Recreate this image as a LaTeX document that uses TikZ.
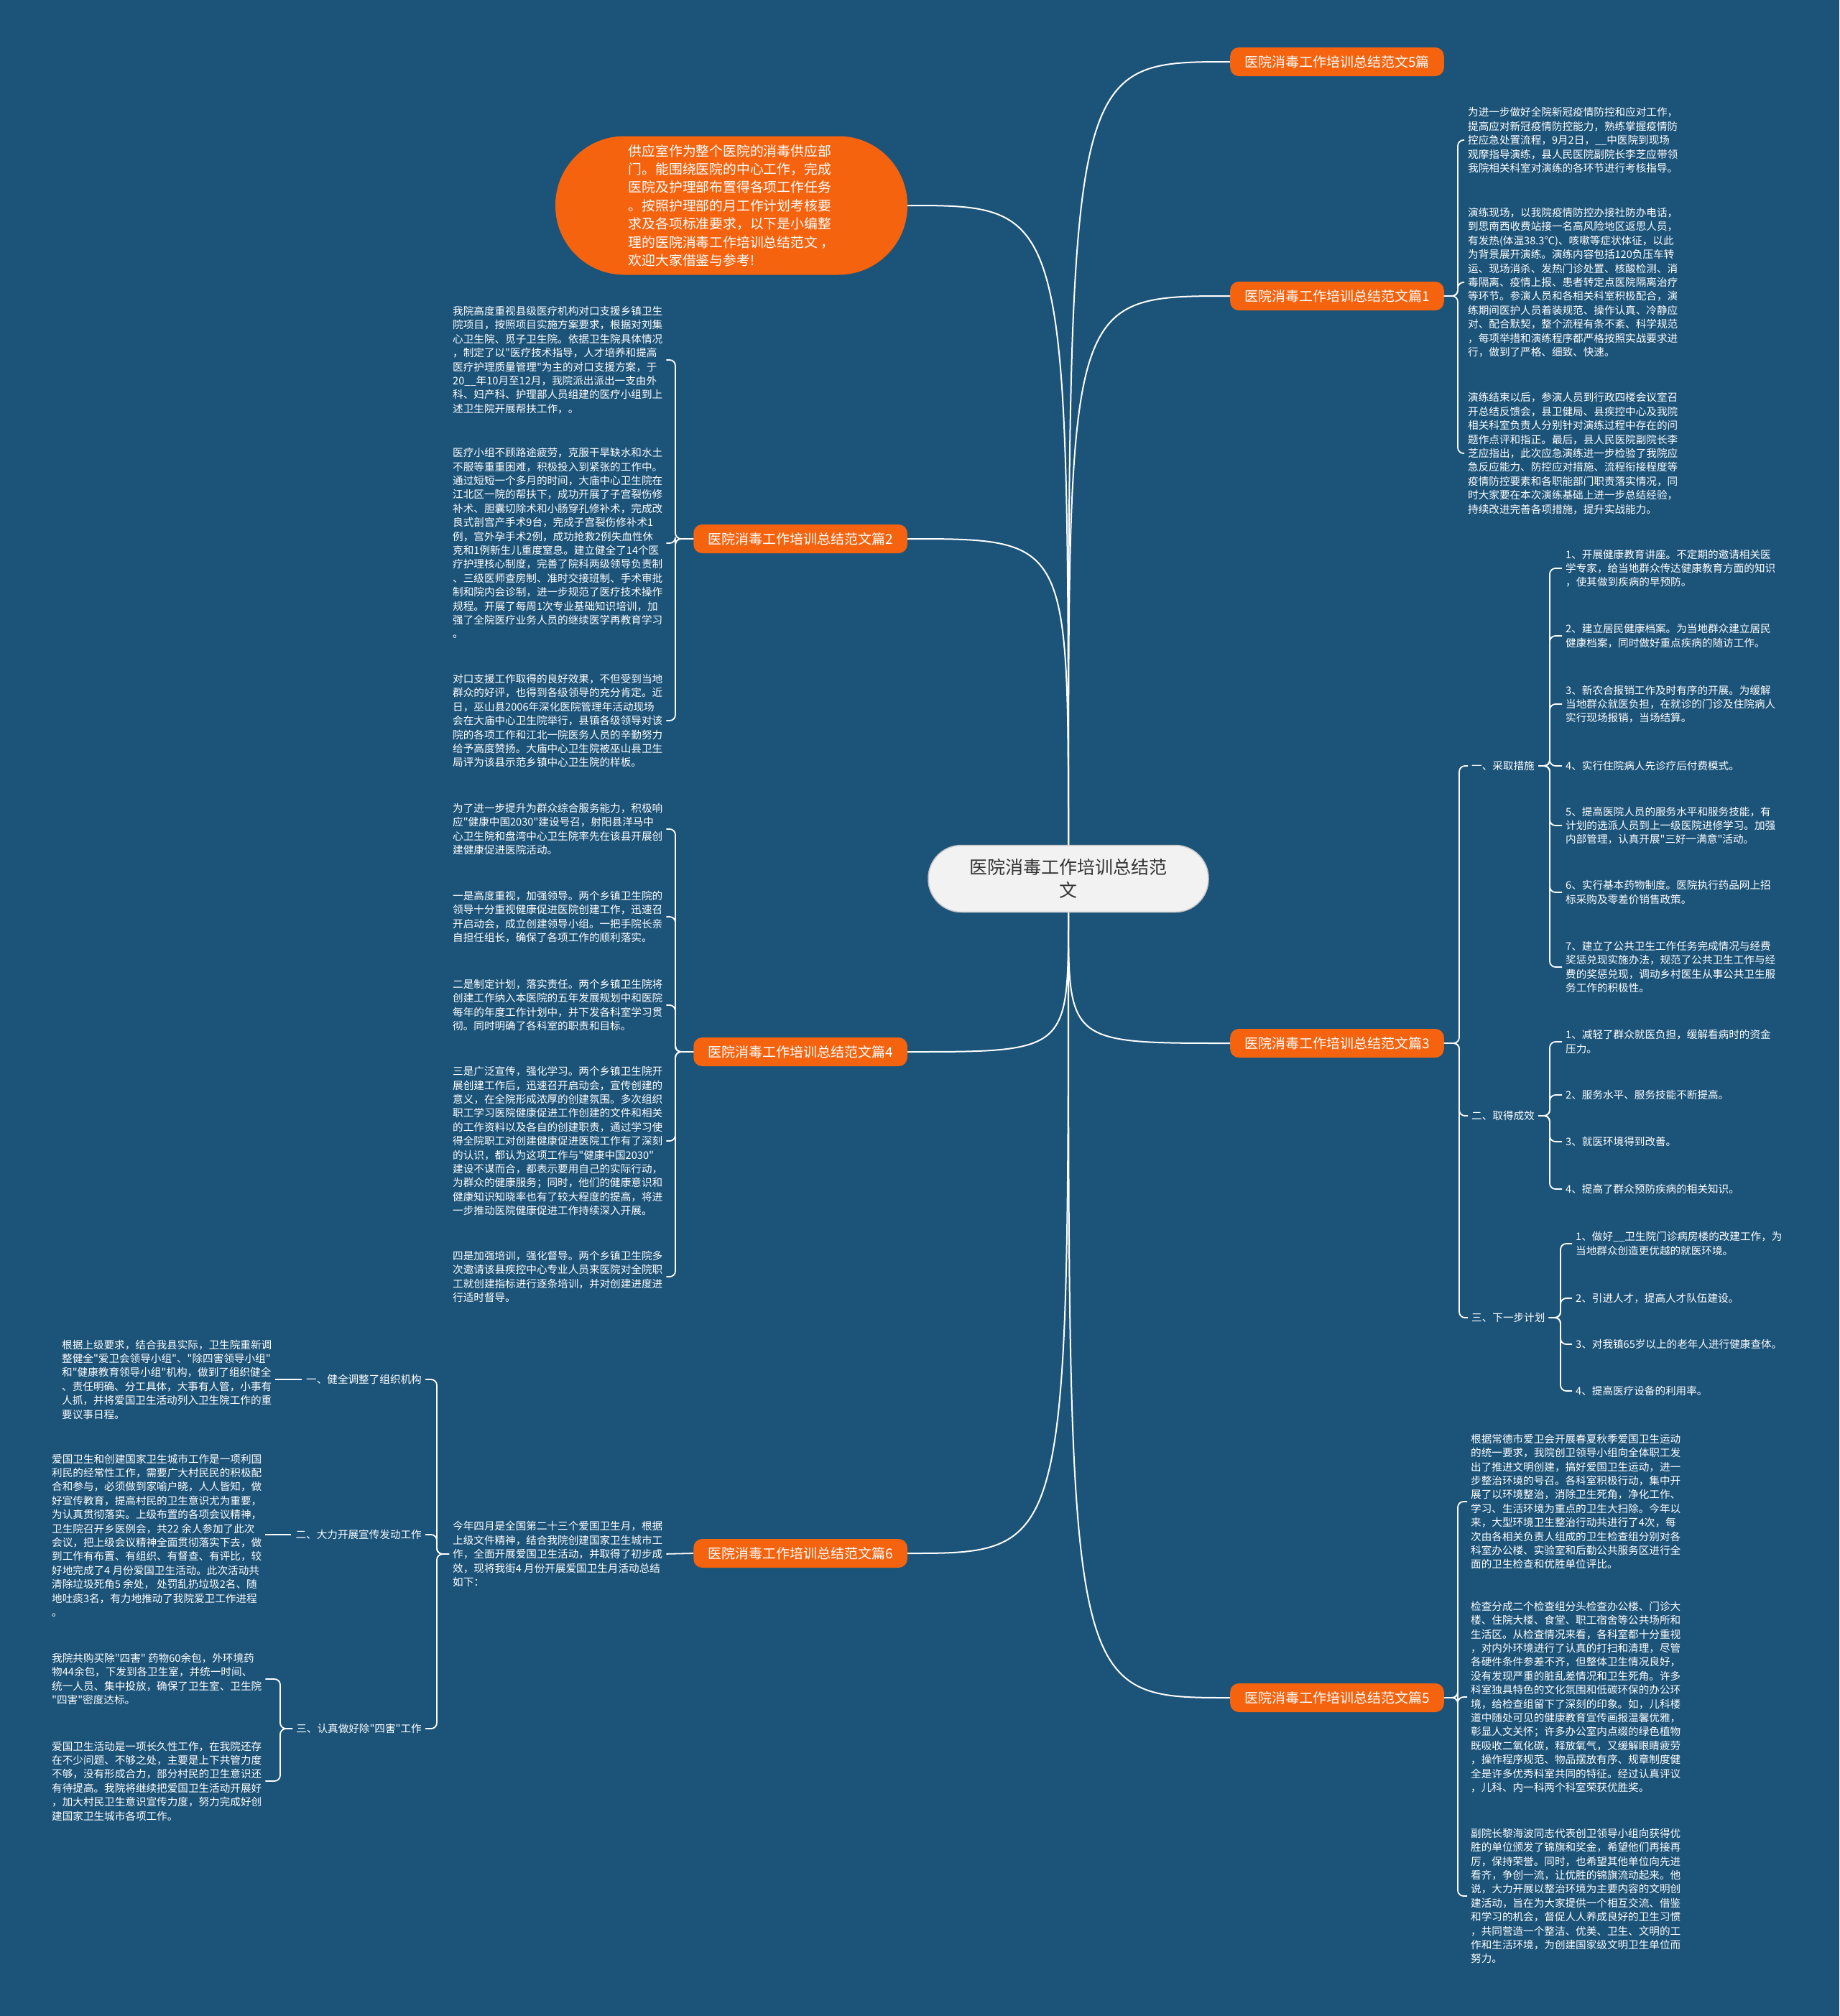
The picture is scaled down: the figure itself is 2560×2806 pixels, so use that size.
\documentclass[tikz,border=0pt]{standalone}
\usepackage{fontspec}
\newfontfamily\cjk{Noto Sans CJK SC}
\definecolor{bg}{HTML}{1B5379}
\definecolor{org}{HTML}{F5630F}
\definecolor{ctr}{HTML}{F2F2F2}
\begin{document}
\begin{tikzpicture}[x=1pt,y=-1pt,
  conn/.style={draw=white, line width=1.8pt, rounded corners=8pt, shorten >=5pt},
  mainc/.style={draw=white, line width=2pt},
  txt/.style={font=\cjk\fontsize{14.6pt}{19.4pt}\selectfont, text=white, align=left, inner sep=0pt},
  br/.style={fill=org, text=white, font=\cjk\fontsize{19pt}{23pt}\selectfont, rounded corners=12pt, minimum height=40pt, inner xsep=20pt, inner ysep=0pt},
]
\fill[bg] (0,0) rectangle (2560,2806);
\useasboundingbox (0,0) rectangle (2560,2806);

% central node
\node[fill=ctr, draw=gray!45, line width=1.5pt, rounded corners=46pt, minimum width=390pt, minimum height=93pt, text=black!80, font=\cjk\fontsize{25pt}{32pt}\selectfont, align=center] (c) at (1487,1223) {医院消毒工作培训总结范\\文};

% branch nodes
\node[br, anchor=west] (r5t) at (1712,86) {医院消毒工作培训总结范文5篇};
\node[br, anchor=west] (r1) at (1712,412) {医院消毒工作培训总结范文篇1};
\node[br, anchor=east] (l2) at (1263,750) {医院消毒工作培训总结范文篇2};
\node[br, anchor=east] (l4) at (1263,1464) {医院消毒工作培训总结范文篇4};
\node[br, anchor=west] (r3) at (1712,1452) {医院消毒工作培训总结范文篇3};
\node[br, anchor=east] (l6) at (1263,2162) {医院消毒工作培训总结范文篇6};
\node[br, anchor=west] (r5b) at (1712,2363) {医院消毒工作培训总结范文篇5};

% intro bubble
\node[fill=org, text=white, rounded corners=96pt, minimum width=490pt, minimum height=193pt, font=\cjk\fontsize{18.8pt}{25.4pt}\selectfont, align=left, inner sep=0pt] (bub) at (1018,286) {供应室作为整个医院的消毒供应部\\门。能围绕医院的中心工作，完成\\医院及护理部布置得各项工作任务\\。按照护理部的月工作计划考核要\\求及各项标准要求，以下是小编整\\理的医院消毒工作培训总结范文 ，\\欢迎大家借鉴与参考!};

% main connectors
\draw[mainc] (c.north) .. controls (c.north |- r5t.west) .. (r5t.west);
\draw[mainc] (c.north) .. controls (c.north |- r1.west) .. (r1.west);
\draw[mainc] (c.north) .. controls (c.north |- bub.east) .. (bub.east);
\draw[mainc] (c.north) .. controls (c.north |- l2.east) .. (l2.east);
\draw[mainc] (c.south) .. controls (c.south |- l4.east) .. (l4.east);
\draw[mainc] (c.south) .. controls (c.south |- r3.west) .. (r3.west);
\draw[mainc] (c.south) .. controls (c.south |- l6.east) .. (l6.east);
\draw[mainc] (c.south) .. controls (c.south |- r5b.west) .. (r5b.west);

% ---------- Article 1 ----------
\node[txt, anchor=west] (a1b1) at (2043,195) {为进一步做好全院新冠疫情防控和应对工作，\\提高应对新冠疫情防控能力，熟练掌握疫情防\\控应急处置流程，9月2日，\_\_中医院到现场\\观摩指导演练，县人民医院副院长李芝应带领\\我院相关科室对演练的各环节进行考核指导。};
\node[txt, anchor=west] (a1b2) at (2043,393) {演练现场，以我院疫情防控办接社防办电话，\\到思南西收费站接一名高风险地区返思人员，\\有发热(体温38.3℃)、咳嗽等症状体征，以此\\为背景展开演练。演练内容包括120负压车转\\运、现场消杀、发热门诊处置、核酸检测、消\\毒隔离、疫情上报、患者转定点医院隔离治疗\\等环节。参演人员和各相关科室积极配合，演\\练期间医护人员着装规范、操作认真、冷静应\\对、配合默契，整个流程有条不紊、科学规范\\，每项举措和演练程序都严格按照实战要求进\\行，做到了严格、细致、快速。};
\node[txt, anchor=west] (a1b3) at (2043,631) {演练结束以后，参演人员到行政四楼会议室召\\开总结反馈会，县卫健局、县疾控中心及我院\\相关科室负责人分别针对演练过程中存在的问\\题作点评和指正。最后，县人民医院副院长李\\芝应指出，此次应急演练进一步检验了我院应\\急反应能力、防控应对措施、流程衔接程度等\\疫情防控要素和各职能部门职责落实情况，同\\时大家要在本次演练基础上进一步总结经验，\\持续改进完善各项措施，提升实战能力。};
\coordinate (j1) at (2029,412);
\foreach \n in {a1b1,a1b2,a1b3} \draw[conn] (r1.east) -- (j1) |- (\n.west);

% ---------- Article 2 ----------
\node[txt, anchor=west] (a2b1) at (630,501) {我院高度重视县级医疗机构对口支援乡镇卫生\\院项目，按照项目实施方案要求，根据对刘集\\心卫生院、觅子卫生院。依据卫生院具体情况\\，制定了以"医疗技术指导，人才培养和提高\\医疗护理质量管理"为主的对口支援方案，于\\20\_\_年10月至12月，我院派出派出一支由外\\科、妇产科、护理部人员组建的医疗小组到上\\述卫生院开展帮扶工作，。};
\node[txt, anchor=west] (a2b2) at (630,756) {医疗小组不顾路途疲劳，克服干旱缺水和水土\\不服等重重困难，积极投入到紧张的工作中。\\通过短短一个多月的时间，大庙中心卫生院在\\江北区一院的帮扶下，成功开展了子宫裂伤修\\补术、胆囊切除术和小肠穿孔修补术，完成改\\良式剖宫产手术9台，完成子宫裂伤修补术1\\例，宫外孕手术2例，成功抢救2例失血性休\\克和1例新生儿重度窒息。建立健全了14个医\\疗护理核心制度，完善了院科两级领导负责制\\、三级医师查房制、准时交接班制、手术审批\\制和院内会诊制，进一步规范了医疗技术操作\\规程。开展了每周1次专业基础知识培训，加\\强了全院医疗业务人员的继续医学再教育学习\\。};
\node[txt, anchor=west] (a2b3) at (630,1003) {对口支援工作取得的良好效果，不但受到当地\\群众的好评，也得到各级领导的充分肯定。近\\日，巫山县2006年深化医院管理年活动现场\\会在大庙中心卫生院举行，县镇各级领导对该\\院的各项工作和江北一院医务人员的辛勤努力\\给予高度赞扬。大庙中心卫生院被巫山县卫生\\局评为该县示范乡镇中心卫生院的样板。};
\coordinate (j2) at (940,750);
\foreach \n in {a2b1,a2b2,a2b3} \draw[conn] (l2.west) -- (j2) |- (\n.east);

% ---------- Article 4 ----------
\node[txt, anchor=west] (a4b1) at (630,1154) {为了进一步提升为群众综合服务能力，积极响\\应"健康中国2030"建设号召，射阳县洋马中\\心卫生院和盘湾中心卫生院率先在该县开展创\\建健康促进医院活动。};
\node[txt, anchor=west] (a4b2) at (630,1276) {一是高度重视，加强领导。两个乡镇卫生院的\\领导十分重视健康促进医院创建工作，迅速召\\开启动会，成立创建领导小组。一把手院长亲\\自担任组长，确保了各项工作的顺利落实。};
\node[txt, anchor=west] (a4b3) at (630,1399) {二是制定计划，落实责任。两个乡镇卫生院将\\创建工作纳入本医院的五年发展规划中和医院\\每年的年度工作计划中，并下发各科室学习贯\\彻。同时明确了各科室的职责和目标。};
\node[txt, anchor=west] (a4b4) at (630,1588) {三是广泛宣传，强化学习。两个乡镇卫生院开\\展创建工作后，迅速召开启动会，宣传创建的\\意义，在全院形成浓厚的创建氛围。多次组织\\职工学习医院健康促进工作创建的文件和相关\\的工作资料以及各自的创建职责，通过学习使\\得全院职工对创建健康促进医院工作有了深刻\\的认识，都认为这项工作与"健康中国2030"\\建设不谋而合，都表示要用自己的实际行动，\\为群众的健康服务；同时，他们的健康意识和\\健康知识知晓率也有了较大程度的提高，将进\\一步推动医院健康促进工作持续深入开展。};
\node[txt, anchor=west] (a4b5) at (630,1777) {四是加强培训，强化督导。两个乡镇卫生院多\\次邀请该县疾控中心专业人员来医院对全院职\\工就创建指标进行逐条培训，并对创建进度进\\行适时督导。};
\coordinate (j4) at (940,1464);
\foreach \n in {a4b1,a4b2,a4b3,a4b4,a4b5} \draw[conn] (l4.west) -- (j4) |- (\n.east);

% ---------- Article 3 ----------
\node[txt, anchor=west] (h31) at (2048,1066) {一、采取措施};
\node[txt, anchor=west] (h32) at (2048,1553) {二、取得成效};
\node[txt, anchor=west] (h33) at (2048,1834) {三、下一步计划};
\coordinate (j3) at (2031,1452);
\foreach \n in {h31,h32,h33} \draw[conn] (r3.east) -- (j3) |- (\n.west);

\node[txt, anchor=west] (i11) at (2179,791) {1、开展健康教育讲座。不定期的邀请相关医\\学专家，给当地群众传达健康教育方面的知识\\，使其做到疾病的早预防。};
\node[txt, anchor=west] (i12) at (2179,885) {2、建立居民健康档案。为当地群众建立居民\\健康档案，同时做好重点疾病的随访工作。};
\node[txt, anchor=west] (i13) at (2179,980) {3、新农合报销工作及时有序的开展。为缓解\\当地群众就医负担，在就诊的门诊及住院病人\\实行现场报销，当场结算。};
\node[txt, anchor=west] (i14) at (2179,1066) {4、实行住院病人先诊疗后付费模式。};
\node[txt, anchor=west] (i15) at (2179,1149) {5、提高医院人员的服务水平和服务技能，有\\计划的选派人员到上一级医院进修学习。加强\\内部管理，认真开展"三好一满意"活动。};
\node[txt, anchor=west] (i16) at (2179,1242) {6、实行基本药物制度。医院执行药品网上招\\标采购及零差价销售政策。};
\node[txt, anchor=west] (i17) at (2179,1346) {7、建立了公共卫生工作任务完成情况与经费\\奖惩兑现实施办法，规范了公共卫生工作与经\\费的奖惩兑现，调动乡村医生从事公共卫生服\\务工作的积极性。};
\coordinate (j31) at (2157,1066);
\foreach \n in {i11,i12,i13,i14,i15,i16,i17} \draw[conn, shorten <=5pt] (h31.east) -- (j31) |- (\n.west);

\node[txt, anchor=west] (i21) at (2179,1450) {1、减轻了群众就医负担，缓解看病时的资金\\压力。};
\node[txt, anchor=west] (i22) at (2179,1524) {2、服务水平、服务技能不断提高。};
\node[txt, anchor=west] (i23) at (2179,1589) {3、就医环境得到改善。};
\node[txt, anchor=west] (i24) at (2179,1655) {4、提高了群众预防疾病的相关知识。};
\coordinate (j32) at (2157,1553);
\foreach \n in {i21,i22,i23,i24} \draw[conn, shorten <=5pt] (h32.east) -- (j32) |- (\n.west);

\node[txt, anchor=west] (i31) at (2193,1731) {1、做好\_\_卫生院门诊病房楼的改建工作，为\\当地群众创造更优越的就医环境。};
\node[txt, anchor=west] (i32) at (2193,1807) {2、引进人才，提高人才队伍建设。};
\node[txt, anchor=west] (i33) at (2193,1871) {3、对我镇65岁以上的老年人进行健康查体。};
\node[txt, anchor=west] (i34) at (2193,1936) {4、提高医疗设备的利用率。};
\coordinate (j33) at (2172,1834);
\foreach \n in {i31,i32,i33,i34} \draw[conn, shorten <=5pt] (h33.east) -- (j33) |- (\n.west);

% ---------- Article 6 ----------
\node[txt, anchor=west] (a6i) at (630,2163) {今年四月是全国第二十三个爱国卫生月，根据\\上级文件精神，结合我院创建国家卫生城市工\\作，全面开展爱国卫生活动，并取得了初步成\\效，现将我街4 月份开展爱国卫生月活动总结\\如下：};
\draw[conn] (l6.west) -- (a6i.east);

\node[txt, anchor=east] (h61) at (587,1920) {一、健全调整了组织机构};
\node[txt, anchor=east] (h62) at (587,2136) {二、大力开展宣传发动工作};
\node[txt, anchor=east] (h63) at (587,2406) {三、认真做好除"四害"工作};
\coordinate (j6) at (608,2163);
\foreach \n in {h61,h62,h63} \draw[conn, shorten <=5pt] (a6i.west) -- (j6) |- (\n.east);

\node[txt, anchor=west] (h61c) at (86,1920) {根据上级要求，结合我县实际，卫生院重新调\\整健全"爱卫会领导小组"、"除四害领导小组"\\和"健康教育领导小组"机构，做到了组织健全\\、责任明确、分工具体，大事有人管，小事有\\人抓，并将爱国卫生活动列入卫生院工作的重\\要议事日程。};
\draw[conn, shorten <=6pt] (h61.west) -- (h61.west -| h61c.east);

\node[txt, anchor=west] (h62c) at (72,2137) {爱国卫生和创建国家卫生城市工作是一项利国\\利民的经常性工作，需要广大村民民的积极配\\合和参与，必须做到家喻户晓，人人皆知，做\\好宣传教育，提高村民的卫生意识尤为重要，\\为认真贯彻落实。上级布置的各项会议精神，\\卫生院召开乡医例会，共22 余人参加了此次\\会议，把上级会议精神全面贯彻落实下去，做\\到工作有布置、有组织、有督查、有评比，较\\好地完成了4 月份爱国卫生活动。此次活动共\\清除垃圾死角5 余处， 处罚乱扔垃圾2名、随\\地吐痰3名，有力地推动了我院爱卫工作进程\\。};
\draw[conn, shorten <=6pt] (h62.west) -- (h62.west -| h62c.east);

\node[txt, anchor=west] (h63c1) at (72,2337) {我院共购买除"四害" 药物60余包，外环境药\\物44余包，下发到各卫生室，并统一时间、\\统一人员、集中投放，确保了卫生室、卫生院\\"四害"密度达标。};
\node[txt, anchor=west] (h63c2) at (72,2479) {爱国卫生活动是一项长久性工作，在我院还存\\在不少问题、不够之处，主要是上下共管力度\\不够，没有形成合力，部分村民的卫生意识还\\有待提高。我院将继续把爱国卫生活动开展好\\，加大村民卫生意识宣传力度，努力完成好创\\建国家卫生城市各项工作。};
\coordinate (j63) at (390,2406);
\foreach \n in {h63c1,h63c2} \draw[conn, shorten <=5pt] (h63.west) -- (j63) |- (\n.east);

% ---------- Article 5 ----------
\node[txt, anchor=west] (a5b1) at (2047,2090) {根据常德市爱卫会开展春夏秋季爱国卫生运动\\的统一要求，我院创卫领导小组向全体职工发\\出了推进文明创建，搞好爱国卫生运动，进一\\步整治环境的号召。各科室积极行动，集中开\\展了以环境整治，消除卫生死角，净化工作、\\学习、生活环境为重点的卫生大扫除。今年以\\来，大型环境卫生整治行动共进行了4次，每\\次由各相关负责人组成的卫生检查组分别对各\\科室办公楼、实验室和后勤公共服务区进行全\\面的卫生检查和优胜单位评比。};
\node[txt, anchor=west] (a5b2) at (2047,2362) {检查分成二个检查组分头检查办公楼、门诊大\\楼、住院大楼、食堂、职工宿舍等公共场所和\\生活区。从检查情况来看，各科室都十分重视\\，对内外环境进行了认真的打扫和清理，尽管\\各硬件条件参差不齐，但整体卫生情况良好，\\没有发现严重的脏乱差情况和卫生死角。许多\\科室独具特色的文化氛围和低碳环保的办公环\\境，给检查组留下了深刻的印象。如，儿科楼\\道中随处可见的健康教育宣传画报温馨优雅，\\彰显人文关怀；许多办公室内点缀的绿色植物\\既吸收二氧化碳，释放氧气，又缓解眼睛疲劳\\，操作程序规范、物品摆放有序、规章制度健\\全是许多优秀科室共同的特征。经过认真评议\\，儿科、内一科两个科室荣获优胜奖。};
\node[txt, anchor=west] (a5b3) at (2047,2639) {副院长黎海波同志代表创卫领导小组向获得优\\胜的单位颁发了锦旗和奖金，希望他们再接再\\厉，保持荣誉。同时，也希望其他单位向先进\\看齐，争创一流，让优胜的锦旗流动起来。他\\说，大力开展以整治环境为主要内容的文明创\\建活动，旨在为大家提供一个相互交流、借鉴\\和学习的机会，督促人人养成良好的卫生习惯\\，共同营造一个整洁、优美、卫生、文明的工\\作和生活环境，为创建国家级文明卫生单位而\\努力。};
\coordinate (j5) at (2029,2363);
\foreach \n in {a5b1,a5b2,a5b3} \draw[conn] (r5b.east) -- (j5) |- (\n.west);

\end{tikzpicture}
\end{document}
